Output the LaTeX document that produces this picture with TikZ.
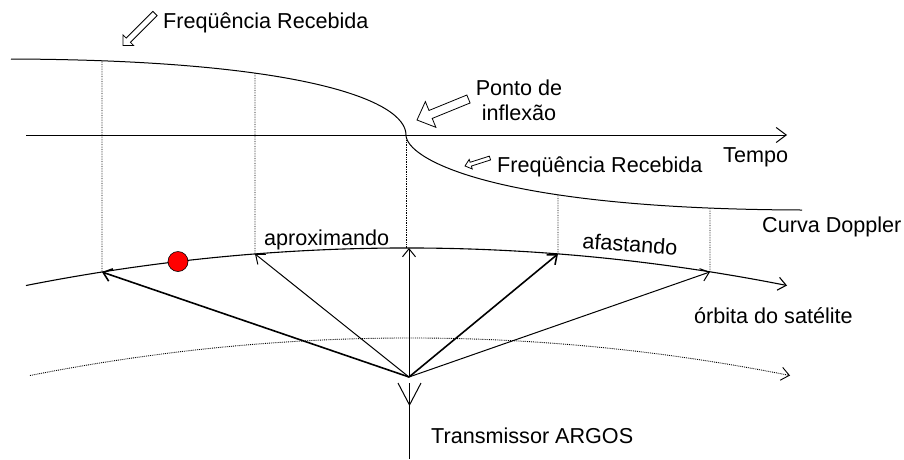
\documentclass[tikz,border=0pt]{standalone}
\usepackage{fontspec}
\setmainfont{Liberation Sans}
\usetikzlibrary{arrows.meta,intersections}
\tikzset{
  pics/harrow/.style n args={4}{code={
    \draw[line width=0.8pt, fill=white, line join=miter]
      (0,0) -- (-#4,#3) -- (-#4,#2) -- (-#1,#2) -- (-#1,-#2) -- (-#4,-#2) -- (-#4,-#3) -- cycle;
  }}
}
\begin{document}
\begin{tikzpicture}[x=1pt,y=-1pt,
  font=\fontsize{21.6}{25}\selectfont,
  lbl/.style={inner sep=0pt, text=black},
  curve/.style={line width=1pt},
  guide/.style={densely dotted, line width=0.7pt, black},
  barb/.style={-{Straight Barb[length=8pt,width=13pt]}},
  sigthin/.style={line width=1pt, barb},
  sigthick/.style={line width=1.6pt, barb},
]
\useasboundingbox (0,0) rectangle (904,459);

% Doppler curve
\coordinate (dA) at (11,59);
\coordinate (dI) at (406,135);
\coordinate (dB) at (802,210);
\draw[curve, name path=dop] (dA) .. controls (300,60) and (406,100) .. (dI)
      .. controls (406,158) and (490,209) .. (dB);

% time axis
\coordinate (t0) at (26,135);
\coordinate (t1) at (787,135);
\draw[curve, -{Straight Barb[length=10pt,width=15pt]}] (t0) -- (t1);

% orbit
\coordinate (o0) at (26,285.5);
\coordinate (o1) at (787,285.5);
\draw[line width=1.1pt, barb] (o0) .. controls (279.3,235.5) and (533.7,235.5) .. (o1);

% lower dotted arc
\coordinate (g0) at (30,375.5);
\coordinate (g1) at (790,375.5);
\draw[densely dotted, line width=0.9pt, -{Straight Barb[length=8pt,width=13pt,line width=0.9pt]}]
  (g0) .. controls (283.3,325.5) and (536.7,325.5) .. (g1);

% orbit points
\coordinate (O1) at (102,272.0);
\coordinate (O2) at (255,253.9);
\coordinate (O3) at (409,248.0);
\coordinate (O3d) at (406,248.0);
\coordinate (O4) at (558,253.9);
\coordinate (O5) at (710,271.9);

% Doppler points above orbit points
\foreach \i/\x in {1/102,2/255,4/558,5/710}{
  \path[name path=v\i] (\x,0) -- (\x,300);
  \path[name intersections={of=dop and v\i, by=D\i}];
  \draw[guide] (D\i) -- (O\i);
}
\draw[guide] (dI) -- (O3d);

% transmitter
\coordinate (T) at (409,377);
\draw[sigthick] (T) -- (O1);
\draw[sigthin] (T) -- (O2);
\draw[sigthin] (T) -- (O3);
\draw[sigthick] (T) -- (O4);
\draw[sigthin] (T) -- (O5);

% antenna
\coordinate (aL) at (398,383);
\coordinate (aR) at (421,383);
\coordinate (aV) at (409.5,405);
\coordinate (aT) at (409.5,383);
\coordinate (aB) at (409.5,459);
\draw[curve] (aL) -- (aV) -- (aR);
\draw[curve] (aT) -- (aB);

% satellite
\node[circle, fill=red, draw=black, line width=0.6pt, minimum size=20pt, inner sep=0pt] (sat) at (178,261.5) {};

% hollow arrows
\pic[rotate=225] at (123,45.5) {harrow={45.3}{3}{7.5}{7.5}};
\pic[rotate=202.2] at (417,120) {harrow={55.6}{4.3}{13.9}{14.7}};
\pic[rotate=197.7] at (465,166) {harrow={26.2}{2}{5}{6}};

% labels
\node[lbl, anchor=base west] (fr1) at (163,28.5) {Freqüência Recebida};
\node[lbl, anchor=north, align=center] (pi) at (519,80) {Ponto de\\inflexão};
\node[lbl, anchor=base west] (tempo) at (723,162) {Tempo};
\node[lbl, anchor=base west] (fr2) at (497,172) {Freqüência Recebida};
\node[lbl, anchor=base west] (cd) at (762,232) {Curva Doppler};
\node[lbl, anchor=base west] (apr) at (264,245) {aproximando};
\node[lbl, rotate=-4] (afa) at (630,244) {afastando};
\node[lbl, anchor=base west] (orb) at (694,323) {órbita do satélite};
\node[lbl, anchor=base west] (tx) at (431,443) {Transmissor ARGOS};
\end{tikzpicture}
\end{document}
